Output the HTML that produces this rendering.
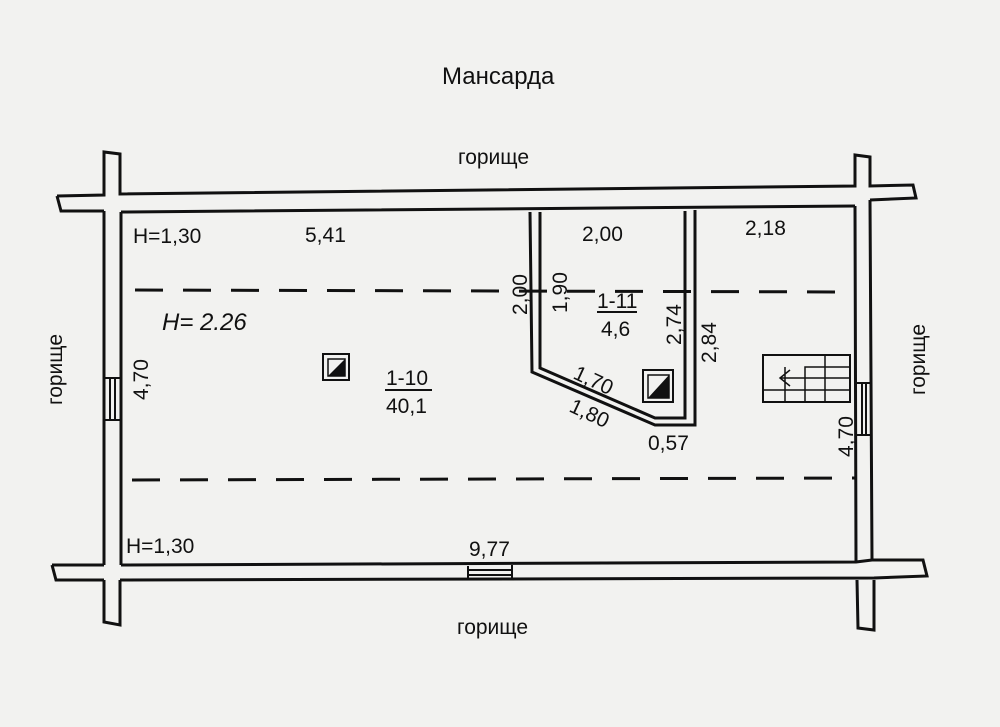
<!DOCTYPE html>
<html><head><style>
body{margin:0;background:#f1f1ef;}
svg{display:block}
text{font-family:"Liberation Sans","DejaVu Sans",sans-serif;fill:#111}
</style></head><body>
<svg width="1000" height="727" viewBox="0 0 1000 727">
<rect width="1000" height="727" fill="#f2f2f0"/>
<g stroke="#111" stroke-width="3" fill="none">
<!-- top wall -->
<path d="M57,196 L104,195 L104,152 L120,154 L120,194 L855,186 L855,155 L870,157 L870,186 L913,185 L916,198 L870,200"/>
<path d="M57,196 L61,211 L104,211 M121,212 L855,206"/>
<path d="M530,212 L532,372 L655,425 L695,425 L695,210 M540,212 L540,368 L655,418 L685,418 L685,211"/>
<!-- left wall -->
<path d="M104,211 L104,565 M121,212 L121,565"/>
<path d="M104,580 L104,622 L120,625 L120,580"/>
<!-- right wall -->
<path d="M855,206 L856,562 M870,200 L872,560"/>
<path d="M857,580 L858,628 L874,630 L874,580"/>
<!-- bottom wall -->
<path d="M52,565 L104,565 M121,565 L856,562 L872,560 L923,560 L927,576 L874,578 L120,580 M104,580 L56,580 L52,565"/>
<path d="M468,566 L468,579 M512,565 L512,579 M468,570 L512,570 M468,575 L512,575" stroke-width="2"/>
<!-- windows -->
<path d="M104,378 L121,378 M104,420 L121,420 M110,378 L110,420 M115,378 L115,420" stroke-width="2"/>
<path d="M856,383 L871,383 M857,435 L872,435 M862,383 L862,435 M866,383 L866,435" stroke-width="2"/>
<!-- dashed -->
<path d="M135,290 L855,292" stroke-dasharray="28,20"/>
<path d="M132,480 L855,478" stroke-dasharray="28,20"/>
<!-- stairs -->
<rect x="763" y="355" width="87" height="47" stroke-width="2"/>
<path d="M763,402 L763,390 L785,390 L785,378 L805,378 L805,367 L825,367 L825,355 M785,390 L850,390 M805,378 L850,378 M825,367 L850,367 M785,367 L785,402 M805,367 L805,402 M825,367 L825,402 M835,378 L780,378 M790,370 L780,378 L790,386" stroke-width="1.5"/>
<!-- chimneys -->
<rect x="323" y="354" width="26" height="26" stroke-width="2"/>
<rect x="643" y="370" width="30" height="32" stroke-width="2"/>
</g>
<path d="M328,376 L345,359 L345,376 Z" fill="#111"/>
<path d="M648,398 L669,375 L669,398 Z" fill="#111"/>
<rect x="328" y="359" width="17" height="17" fill="none" stroke="#111" stroke-width="1.5"/>
<rect x="648" y="375" width="21" height="23" fill="none" stroke="#111" stroke-width="1.5"/>
<g font-size="21">
<text x="442" y="84" font-size="24">Мансарда</text>
<text x="458" y="164">горище</text>
<text x="457" y="634">горище</text>
<text x="62" y="405" transform="rotate(-90 62 405)" font-size="21">горище</text>
<text x="925" y="395" transform="rotate(-90 925 395)" font-size="21">горище</text>
<text x="133" y="243">H=1,30</text>
<text x="305" y="242">5,41</text>
<text x="582" y="241">2,00</text>
<text x="745" y="235">2,18</text>
<text x="162" y="330" font-size="24" font-style="italic">H= 2.26</text>
<text x="148" y="400" transform="rotate(-90 148 400)">4,70</text>
<text x="527" y="315" transform="rotate(-90 527 315)">2,00</text>
<text x="567" y="313" transform="rotate(-90 567 313)">1,90</text>
<text x="597" y="308">1-11</text>
<path d="M597,312 L637,312" stroke="#111" stroke-width="2"/>
<text x="601" y="336">4,6</text>
<text x="681" y="345" transform="rotate(-90 681 345)">2,74</text>
<text x="716" y="363" transform="rotate(-90 716 363)">2,84</text>
<text x="386" y="385">1-10</text>
<path d="M385,390 L432,390" stroke="#111" stroke-width="2"/>
<text x="386" y="413">40,1</text>
<text x="572" y="378" transform="rotate(25 572 378)">1,70</text>
<text x="568" y="411" transform="rotate(25 568 411)">1,80</text>
<text x="648" y="450">0,57</text>
<text x="853" y="457" transform="rotate(-90 853 457)">4,70</text>
<text x="126" y="553">H=1,30</text>
<text x="469" y="556">9,77</text>
</g>
</svg>
</body></html>
